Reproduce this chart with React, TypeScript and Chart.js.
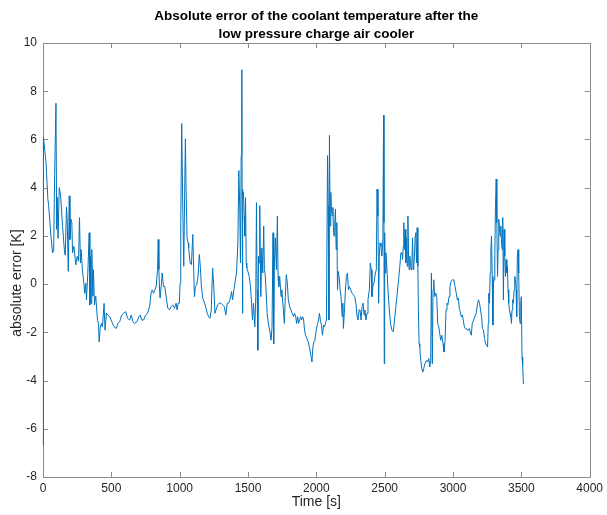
import React, { useEffect, useRef } from "react";
import { Chart, registerables } from "chart.js";

Chart.register(...registerables);

// Sample time in seconds
const timeS = [
  0, 3, 22, 36, 41, 58, 70, 78, 85, 95, 100, 104, 110, 119, 129, 143, 158, 163, 172, 177,
  185, 192, 197, 204, 211, 216, 226, 240, 250, 260, 267, 274, 279, 289, 299, 306, 313, 318, 328, 338,
  343, 348, 352, 357, 365, 369, 377, 386, 399, 406, 411, 418, 428, 435, 442, 447, 454, 464, 474, 488,
  503, 520, 537, 547, 561, 576, 590, 605, 619, 634, 646, 658, 670, 687, 702, 712, 721, 736, 751, 765,
  780, 792, 799, 809, 819, 828, 838, 843, 848, 853, 857, 867, 872, 882, 891, 901, 913, 926, 938, 950,
  962, 974, 981, 989, 998, 1003, 1008, 1015, 1023, 1030, 1037, 1042, 1047, 1054, 1062, 1066, 1076, 1086, 1096, 1100,
  1108, 1115, 1125, 1134, 1144, 1151, 1159, 1169, 1173, 1183, 1193, 1202, 1212, 1222, 1231, 1241, 1251, 1258, 1266, 1278,
  1290, 1302, 1314, 1326, 1338, 1348, 1358, 1368, 1380, 1387, 1397, 1406, 1416, 1426, 1433, 1440, 1445, 1450, 1455, 1457,
  1460, 1462, 1467, 1472, 1477, 1482, 1487, 1491, 1499, 1509, 1518, 1526, 1533, 1540, 1550, 1557, 1562, 1567, 1572, 1577,
  1581, 1586, 1594, 1601, 1608, 1615, 1620, 1625, 1632, 1640, 1649, 1659, 1669, 1676, 1683, 1688, 1693, 1700, 1708, 1715,
  1720, 1725, 1732, 1742, 1747, 1759, 1766, 1773, 1780, 1788, 1795, 1805, 1814, 1824, 1834, 1841, 1849, 1856, 1863, 1870,
  1878, 1885, 1892, 1900, 1907, 1914, 1921, 1931, 1941, 1951, 1960, 1968, 1975, 1982, 1989, 1999, 2009, 2016, 2023, 2031,
  2038, 2045, 2053, 2060, 2067, 2074, 2082, 2087, 2092, 2096, 2101, 2106, 2111, 2116, 2121, 2126, 2130, 2135, 2140, 2145,
  2150, 2155, 2160, 2167, 2174, 2181, 2189, 2194, 2198, 2206, 2213, 2220, 2228, 2235, 2242, 2252, 2262, 2271, 2281, 2291,
  2298, 2305, 2313, 2320, 2327, 2335, 2342, 2349, 2356, 2363, 2371, 2378, 2388, 2395, 2402, 2407, 2414, 2422, 2432, 2439,
  2444, 2451, 2456, 2461, 2466, 2473, 2480, 2487, 2492, 2495, 2497, 2500, 2504, 2509, 2517, 2524, 2534, 2543, 2553, 2563,
  2572, 2582, 2592, 2602, 2611, 2619, 2626, 2631, 2636, 2640, 2645, 2650, 2655, 2660, 2665, 2670, 2675, 2679, 2684, 2689,
  2694, 2699, 2704, 2709, 2713, 2718, 2723, 2728, 2733, 2738, 2743, 2747, 2752, 2757, 2764, 2772, 2779, 2786, 2794, 2801,
  2808, 2815, 2823, 2830, 2837, 2842, 2849, 2854, 2859, 2866, 2874, 2881, 2888, 2896, 2903, 2910, 2918, 2927, 2934, 2942,
  2949, 2956, 2963, 2971, 2978, 2985, 2995, 3005, 3015, 3024, 3032, 3039, 3046, 3053, 3061, 3068, 3075, 3083, 3090, 3097,
  3104, 3112, 3119, 3126, 3134, 3141, 3151, 3160, 3170, 3180, 3187, 3194, 3202, 3209, 3216, 3223, 3231, 3238, 3245, 3253,
  3258, 3262, 3267, 3272, 3277, 3282, 3287, 3292, 3296, 3301, 3306, 3311, 3316, 3321, 3326, 3330, 3335, 3340, 3345, 3350,
  3355, 3360, 3364, 3369, 3374, 3379, 3384, 3389, 3394, 3398, 3403, 3408, 3413, 3418, 3423, 3428, 3432, 3437, 3442, 3447,
  3452, 3457, 3462, 3466, 3471, 3476, 3481, 3486, 3491, 3496, 3500, 3505, 3510, 3515,
];

// Absolute error of the coolant temperature in kelvin
const errorK = [
  -6.7, 6.1, 5.05, 3.5, 3.3, 2.0, 1.3, 1.35, 4.5, 7.5, 2.27, 3.6, 1.9, 4.0, 3.66, 2.4, 1.3, 1.2, 3.2, 2.7,
  0.53, 3.66, 1.85, 2.7, 2.55, 1.3, 1.57, 0.8, 1.15, 0.95, 2.76, 0.88, 1.43, 0.53, 0.04, -0.38, 0.04, -0.65, 0.46, 2.13,
  -0.86, 1.15, -0.8, 1.43, -0.5, 0.6, -0.86, -0.5, -1.5, -1.63, -2.4, -1.84, -1.63, -1.77, -1.2, -0.8, -1.91, -1.2, -1.28, -1.35,
  -1.56, -1.77, -1.84, -1.63, -1.56, -1.28, -1.21, -1.14, -1.42, -1.49, -1.28, -1.56, -1.63, -1.56, -1.35, -1.28, -1.49, -1.49, -1.28, -1.21,
  -0.93, -0.31, -0.24, -0.38, -0.24, -0.1, 0.6, 1.85, 0.6, -0.24, -0.58, 0.04, 0.46, -0.1, -0.1, -0.52, -1.0, -1.07, -0.93, -0.86,
  -1.0, -0.79, -1.07, -0.79, -0.79, 0.04, 2.55, 6.66, 3.11, 0.74, 3.94, 6.03, 3.94, 1.92, 1.71, 1.5, 0.88, 0.81, 2.06, 1.16,
  -0.52, -0.1, -0.03, 0.32, 1.23, 0.74, -0.1, -0.58, -0.65, -0.79, -1.0, -1.21, -1.35, -1.42, -1.07, 0.67, -0.24, -1.21, -1.07, -0.86,
  -0.79, -0.79, -0.86, -0.93, -1.28, -0.79, -0.79, -0.65, -0.31, -0.65, -0.24, 0.11, 0.46, 1.71, 4.71, 3.11, 0.88, 5.33, 8.89, 3.94,
  -1.21, 3.66, 3.8, 2.83, 1.99, 3.59, 0.88, 0.67, 0.53, 0.32, -0.1, -0.79, -1.49, -0.79, -1.77, -0.52, 3.38, -0.24, -2.74, 1.16,
  0.88, 3.25, -0.52, 1.5, 0.46, 2.41, 0.6, 0.46, -0.24, -1.21, -1.63, -1.91, -2.33, -1.77, 2.13, -2.47, 0.88, 1.92, 0.6, 2.83,
  0.32, -0.1, 0.32, -0.52, -0.24, -1.07, -1.63, -0.52, 0.39, 0.04, -0.65, -0.93, -1.07, -1.21, -1.35, -1.21, -1.35, -1.63, -1.35, -1.63,
  -1.49, -1.35, -1.49, -1.35, -1.49, -1.91, -2.12, -2.26, -2.4, -2.67, -2.95, -3.23, -2.6, -2.4, -2.33, -1.91, -1.63, -1.49, -1.21, -1.56,
  -1.7, -2.12, -1.7, -1.77, -1.63, -1.49, 5.33, 3.25, -1.49, 6.17, 2.41, 3.8, 3.11, 2.83, 3.18, 2.13, 1.99, 2.55, 3.11, 1.43,
  2.55, -0.24, 0.53, 0.32, -0.24, -0.52, -1.35, -0.79, -1.84, -1.07, -0.24, 0.32, 0.46, -0.24, -0.1, -0.24, -0.38, -0.45, -0.52, -0.86,
  -1.35, -1.49, -1.07, -1.07, -1.49, -0.93, -0.79, -1.28, -1.07, -1.49, -1.21, -0.65, -0.24, 0.88, 0.6, -0.52, -0.1, 0.04, 0.46, 0.6,
  3.94, 2.83, -0.79, 1.16, 1.71, 1.57, 1.16, 1.85, 7.01, 2.55, -3.3, 2.13, 0.46, 1.3, 0.6, -0.24, -1.07, -1.63, -1.91, -1.98,
  -1.49, -0.93, -0.38, 0.18, 0.74, 1.3, 1.3, 1.02, 1.57, 2.55, 1.43, 2.27, 0.88, 1.92, 0.74, 2.83, 1.16, 0.6, 1.16, 0.88,
  0.6, 0.74, 1.92, 0.6, 0.74, 1.16, 1.99, 2.13, 0.88, 2.34, 0.74, -1.07, -2.47, -2.6, -3.16, -3.51, -3.65, -3.51, -3.3, -3.23,
  -3.16, -3.23, -3.09, -3.44, -3.16, 0.46, -3.3, -0.24, 0.18, -0.52, -0.38, -0.52, -1.63, -1.77, -2.05, -2.33, -2.12, -2.47, -2.81, -2.33,
  -1.07, -0.79, -0.86, -0.52, -0.1, 0.11, 0.18, 0.18, -0.1, -0.38, -0.65, -0.58, -1.0, -1.14, -1.35, -1.28, -1.49, -1.77, -1.84, -1.84,
  -1.91, -1.91, -1.84, -1.98, -2.12, -1.63, -1.49, -1.35, -1.21, -0.79, -0.65, -0.79, -1.07, -1.35, -1.84, -1.91, -2.26, -2.47, -2.53, -2.6,
  -1.63, -0.38, -0.79, 0.46, 1.43, 1.99, 0.32, -1.7, 0.04, 0.18, 1.16, 3.25, 4.36, 2.55, 0.32, 1.43, 2.69, 2.27, 1.99, 2.41,
  1.71, 1.43, 2.76, -0.65, 2.27, 1.16, 0.32, 1.02, 0.46, 0.74, -0.24, -0.79, -1.07, -1.21, -1.35, -1.63, -1.07, -0.65, -0.79, -0.24,
  0.32, 0.18, -0.24, -1.35, 1.16, 1.43, 0.46, -1.35, -1.63, -0.79, -0.52, -3.02, -3.37, -4.14,
];

const xTicks = [0, 500, 1000, 1500, 2000, 2500, 3000, 3500, 4000];
const yTicks = [-8, -6, -4, -2, 0, 2, 4, 6, 8, 10];

const titleLines = [
  "Absolute error of the coolant temperature after the",
  "low pressure charge air cooler",
];
const xLabel = "Time [s]";
const yLabel = "absolute error [K]";

const LINE_COLOR = "#0072BD";
const AXIS_COLOR = "#262626";
const FRAME_COLOR = "#8a8a8a";
const FONT = "'Liberation Sans', Arial, Helvetica, sans-serif";

// Boxed axes with tick marks pointing inward on all four sides
const boxFrame = {
  id: "boxFrame",
  beforeDatasetsDraw(chart: any) {
    const { ctx, chartArea } = chart;
    const { left, right, top, bottom } = chartArea;
    const xs = chart.scales.x;
    const ys = chart.scales.y;
    const tick = 5;
    ctx.save();
    ctx.strokeStyle = FRAME_COLOR;
    ctx.lineWidth = 1;
    ctx.beginPath();
    ctx.rect(Math.round(left) + 0.5, Math.round(top) + 0.5, Math.round(right - left), Math.round(bottom - top));
    for (const v of xTicks) {
      const px = Math.round(xs.getPixelForValue(v)) + 0.5;
      ctx.moveTo(px, bottom);
      ctx.lineTo(px, bottom - tick);
      ctx.moveTo(px, top);
      ctx.lineTo(px, top + tick);
    }
    for (const v of yTicks) {
      const py = Math.round(ys.getPixelForValue(v)) + 0.5;
      ctx.moveTo(left, py);
      ctx.lineTo(left + tick, py);
      ctx.moveTo(right, py);
      ctx.lineTo(right - tick, py);
    }
    ctx.stroke();
    ctx.restore();
  },
  afterDraw(chart: any) {
    // y-axis label, centred on the zero line
    const { ctx } = chart;
    const ys = chart.scales.y;
    ctx.save();
    ctx.translate(17, ys.getPixelForValue(0) - 1);
    ctx.rotate(-Math.PI / 2);
    ctx.fillStyle = AXIS_COLOR;
    ctx.font = `14px ${FONT}`;
    ctx.textAlign = "center";
    ctx.textBaseline = "middle";
    ctx.fillText(yLabel, 0, 0);
    ctx.restore();
  },
};

export default function App() {
  const canvasRef = useRef<HTMLCanvasElement | null>(null);

  useEffect(() => {
    document.body.style.margin = "0";
    const canvas = canvasRef.current;
    if (!canvas) return;
    const points = timeS.map((t, i) => ({ x: t, y: errorK[i] }));
    const chart = new Chart(canvas, {
      type: "line",
      data: {
        datasets: [
          {
            data: points,
            borderColor: LINE_COLOR,
            borderWidth: 1,
            pointRadius: 0,
            tension: 0,
            fill: false,
            clip: 2,
          },
        ],
      },
      options: {
        animation: false,
        responsive: false,
        maintainAspectRatio: false,
        layout: { padding: { left: 0, right: 15, top: 0, bottom: 0 } },
        plugins: {
          legend: { display: false },
          tooltip: { enabled: false },
          title: {
            display: true,
            fullSize: false,
            text: titleLines,
            color: "#000000",
            font: { family: FONT, size: 13.5, weight: "bold", lineHeight: "18px" },
            padding: { top: 7, bottom: 0 },
          },
        },
        scales: {
          x: {
            type: "linear",
            min: 0,
            max: 4000,
            afterBuildTicks: (scale: any) => {
              scale.ticks = xTicks.map((v) => ({ value: v }));
            },
            afterFit: (scale: any) => {
              scale.height = 38;
            },
            grid: { display: false, drawTicks: false },
            border: { display: false },
            ticks: {
              color: AXIS_COLOR,
              font: { family: FONT, size: 12 },
              padding: 4,
              maxRotation: 0,
              autoSkip: false,
              callback: (v: any) => String(v),
            },
            title: {
              display: true,
              text: xLabel,
              color: AXIS_COLOR,
              font: { family: FONT, size: 14 },
              padding: { top: 0, bottom: 4 },
            },
          },
          y: {
            type: "linear",
            min: -8,
            max: 10,
            afterBuildTicks: (scale: any) => {
              scale.ticks = yTicks.map((v) => ({ value: v }));
            },
            afterFit: (scale: any) => {
              scale.width = 43;
            },
            grid: { display: false, drawTicks: false },
            border: { display: false },
            ticks: {
              color: AXIS_COLOR,
              font: { family: FONT, size: 12 },
              padding: 6,
              autoSkip: false,
              callback: (v: any) => String(v),
            },
            title: { display: false },
          },
        },
      },
      plugins: [boxFrame],
    } as any);
    return () => chart.destroy();
  }, []);

  return (
    <div style={{ position: "absolute", left: 0, top: 0, width: 607, height: 515, background: "#ffffff" }}>
      <canvas ref={canvasRef} width={607} height={515} />
    </div>
  );
}
